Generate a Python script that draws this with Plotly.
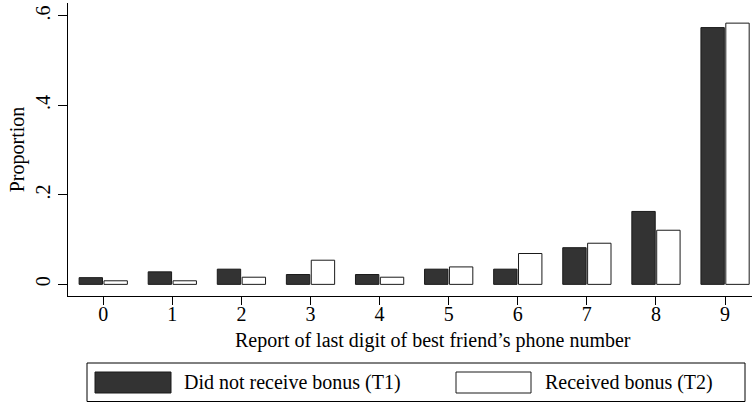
import plotly.graph_objects as go

digits = [0, 1, 2, 3, 4, 5, 6, 7, 8, 9]
t1_no_bonus = [0.015, 0.028, 0.034, 0.022, 0.022, 0.034, 0.034, 0.082, 0.163, 0.574]
t2_bonus = [0.008, 0.008, 0.016, 0.054, 0.016, 0.039, 0.069, 0.092, 0.121, 0.584]
series_names = ["Did not receive bonus (T1)", "Received bonus (T2)"]
x_title = "Report of last digit of best friend’s phone number"
y_title = "Proportion"
y_ticks = [0, 0.2, 0.4, 0.6]
y_ticktext = ["0", ".2", ".4", ".6"]

FONT = "Liberation Serif"
FS = 20
DARK = "#333333"

fig = go.Figure()
fig.add_trace(go.Bar(x=digits, y=t1_no_bonus, name=series_names[0],
                     marker=dict(color=DARK, line=dict(color="#1a1a1a", width=1))))
fig.add_trace(go.Bar(x=digits, y=t2_bonus, name=series_names[1],
                     marker=dict(color="white", line=dict(color="#1a1a1a", width=1))))

fig.update_layout(
    width=753, height=403,
    margin=dict(l=68, r=1, t=3, b=107, autoexpand=False),
    plot_bgcolor="white", paper_bgcolor="white",
    barmode="group", bargap=0.28, bargroupgap=0.06,
    showlegend=False,
    font=dict(family=FONT, size=FS, color="black"),
)
fig.update_xaxes(
    range=[-0.51, 9.39], tickmode="array", tickvals=digits,
    ticktext=[str(d) for d in digits],
    showline=True, linecolor="black", linewidth=1,
    ticks="outside", ticklen=8, tickcolor="black", tickwidth=1,
    showgrid=False, zeroline=False, automargin=False,
    tickfont=dict(family=FONT, size=FS),
    ticklabelstandoff=-8,
)
fig.update_yaxes(
    range=[-0.026, 0.629], tickmode="array", tickvals=y_ticks, ticktext=y_ticktext,
    tickangle=-90,
    showline=True, linecolor="black", linewidth=1,
    ticks="outside", ticklen=9, tickcolor="black", tickwidth=1,
    showgrid=False, zeroline=False, automargin=False,
    tickfont=dict(family=FONT, size=FS),
    title=dict(text=y_title, font=dict(family=FONT, size=FS), standoff=2),
)

# Pixel layout helpers (plot area: x 68..752, y 3..296)
def fx(px):
    return (px - 68) / 684.0

def fy(py):
    return (296 - py) / 293.0

shapes = [
    dict(type="rect", xref="paper", yref="paper",
         x0=fx(87), x1=fx(745), y0=fy(401.5), y1=fy(363),
         line=dict(color="black", width=1), fillcolor="white", layer="below"),
    dict(type="rect", xref="paper", yref="paper",
         x0=fx(95), x1=fx(171), y0=fy(393), y1=fy(372),
         line=dict(color="#1a1a1a", width=1), fillcolor=DARK),
    dict(type="rect", xref="paper", yref="paper",
         x0=fx(456), x1=fx(531), y0=fy(393), y1=fy(372),
         line=dict(color="#1a1a1a", width=1), fillcolor="white"),
]
annotations = [
    dict(xref="paper", yref="paper", x=fx(433), y=fy(340),
         text=x_title, showarrow=False, xanchor="center", yanchor="middle",
         font=dict(family=FONT, size=FS, color="black")),
    dict(xref="paper", yref="paper", x=fx(182), y=fy(382.5),
         text=series_names[0], showarrow=False, xanchor="left", yanchor="middle",
         font=dict(family=FONT, size=FS, color="black")),
    dict(xref="paper", yref="paper", x=fx(543), y=fy(382.5),
         text=series_names[1], showarrow=False, xanchor="left", yanchor="middle",
         font=dict(family=FONT, size=FS, color="black")),
]
fig.update_layout(shapes=shapes, annotations=annotations)

fig.write_html("out.html", config={"displayModeBar": False},
               post_script="document.body.style.margin='0';document.body.style.overflow='hidden';")
